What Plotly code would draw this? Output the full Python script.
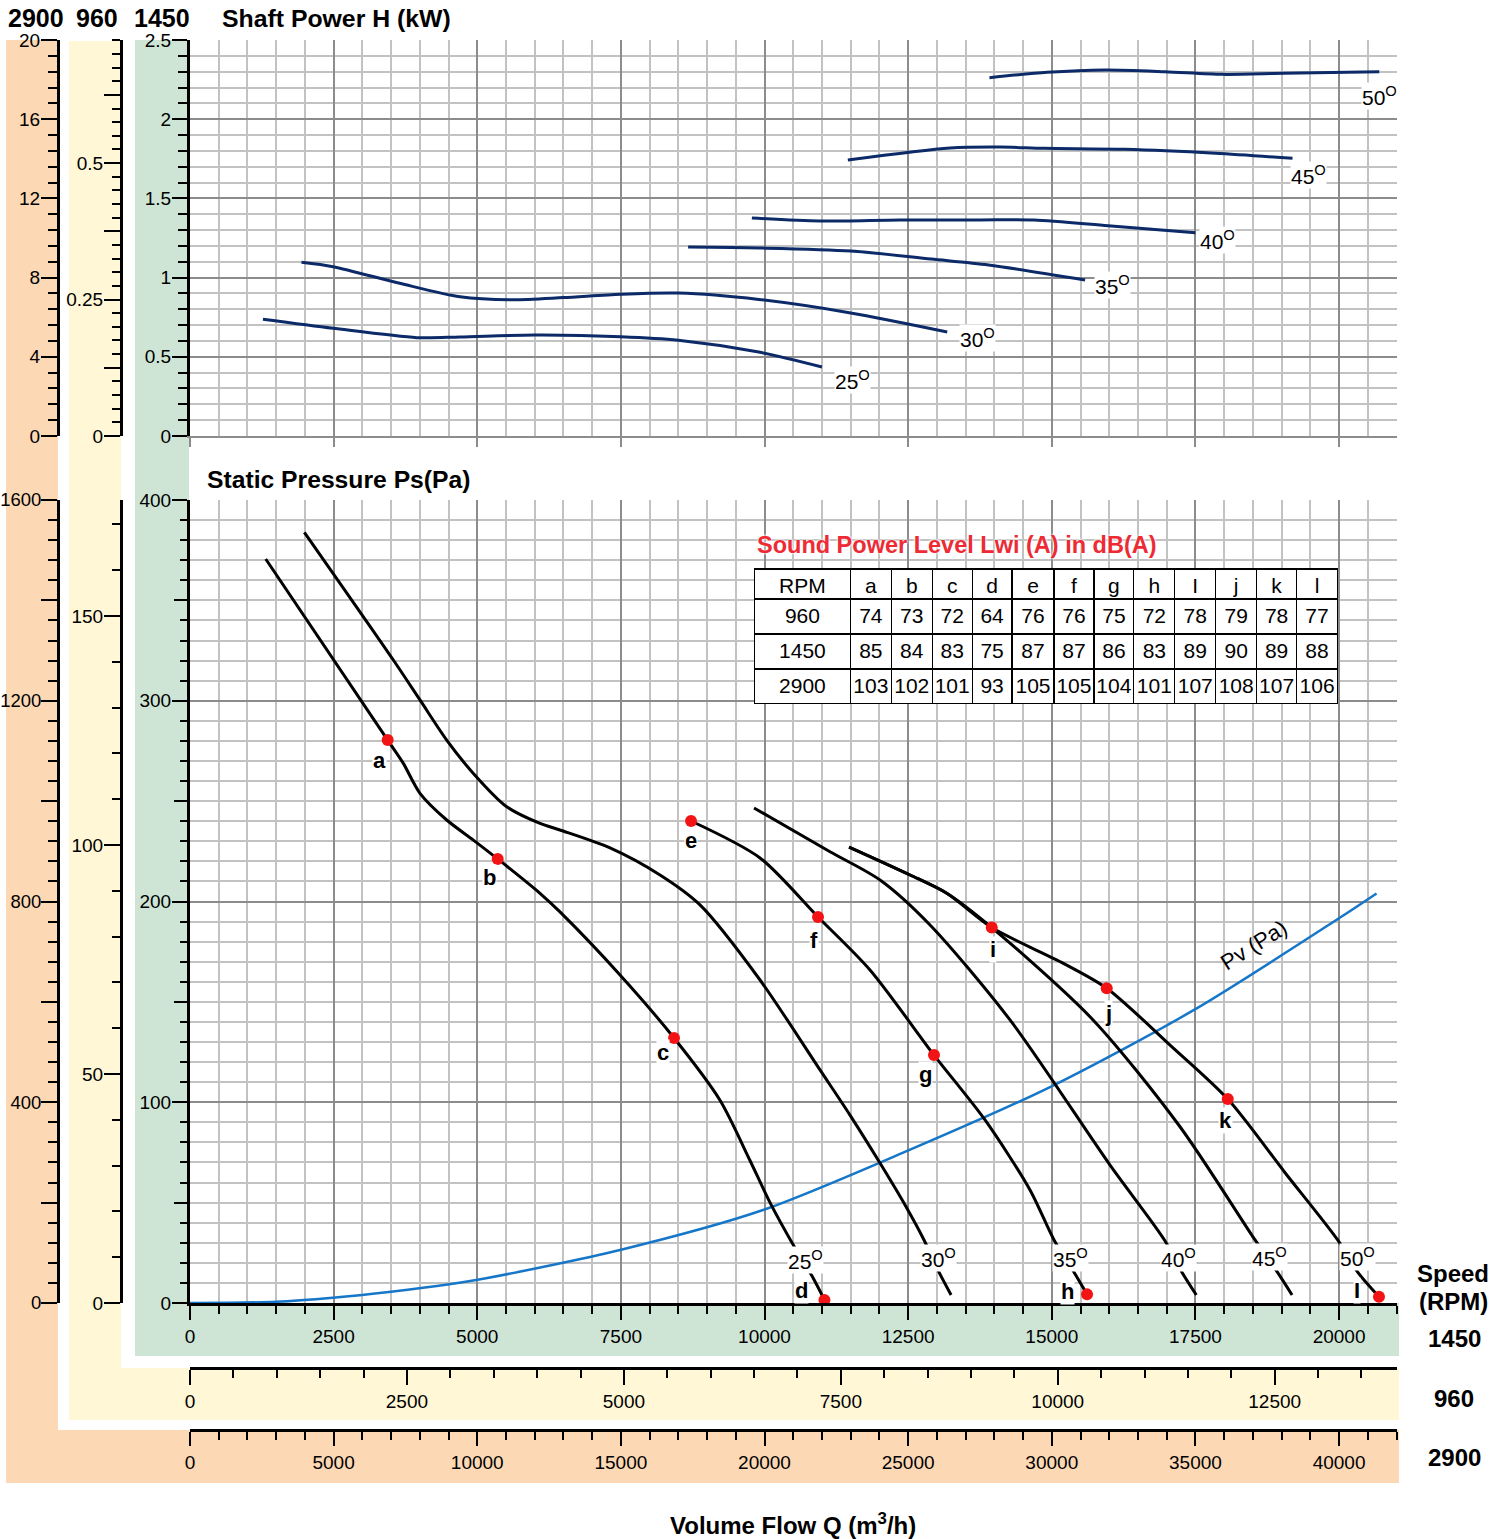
import plotly.graph_objects as go

# ---------------- data ----------------
# Shaft power curves (1450 rpm scale): flow Q (m3/h), power H (kW)
pw25_q = [1270, 2490, 3950, 4700, 6000, 7500, 8500, 9900, 11000]
pw25_h = [0.737, 0.680, 0.621, 0.625, 0.637, 0.627, 0.605, 0.530, 0.436]
pw30_q = [1940, 2490, 3650, 4700, 5600, 6500, 7500, 8500, 9900, 11500, 13180]
pw30_h = [1.097, 1.069, 0.964, 0.879, 0.860, 0.874, 0.895, 0.902, 0.862, 0.777, 0.657]
pw35_q = [8670, 9900, 11500, 12900, 13900, 15580]
pw35_h = [1.193, 1.187, 1.168, 1.117, 1.080, 0.985]
pw40_q = [9780, 10970, 12360, 13750, 14690, 15980, 17500]
pw40_h = [1.376, 1.357, 1.364, 1.364, 1.364, 1.328, 1.283]
pw45_q = [11450, 13230, 14100, 14870, 16270, 17850, 19190]
pw45_h = [1.742, 1.818, 1.824, 1.816, 1.810, 1.785, 1.753]
pw50_q = [13915, 14920, 15920, 16970, 17970, 19030, 20700]
pw50_h = [2.262, 2.296, 2.311, 2.300, 2.283, 2.290, 2.300]

# Static pressure curves (1450 rpm scale): flow Q, pressure Ps (Pa)
ps25_q = [1318, 3441, 3713, 4003, 4468, 4932, 5356, 6092, 6440, 7485, 8425, 9225, 9747, 10096, 10531, 10827, 11043]
ps25_p = [370.6, 280.4, 268.8, 253.9, 240.6, 230.6, 221.2, 204.1, 194.8, 163.4, 132.0, 101.0, 71.0, 50.0, 27.4, 13.4, 1.5]
ps30_q = [1990, 3539, 4003, 4468, 4932, 5513, 6092, 6440, 7311, 8181, 8877, 9922, 10966, 11488, 12010, 12446, 12776, 13032, 13247]
ps30_p = [383.9, 320.3, 300.4, 280.4, 263.8, 247.2, 238.9, 235.6, 226.7, 213.2, 198.3, 160.9, 116.1, 93.6, 69.7, 48.8, 31.4, 15.6, 4.0]
ps35_q = [8721, 9922, 10931, 11836, 12950, 13838, 14621, 15039, 15382, 15614]
ps35_p = [240.1, 221.7, 192.3, 165.9, 123.5, 91.2, 56.3, 31.4, 15.6, 4.3]
ps40_q = [9817, 11140, 12011, 12881, 14273, 16014, 16961, 17260, 17516]
ps40_p = [246.6, 224.8, 210.7, 188.3, 141.0, 68.7, 31.4, 15.6, 4.0]
ps45_q = [11471, 12533, 13172, 13955, 15718, 17232, 18538, 18921, 19182]
ps45_p = [227.1, 213.2, 204.1, 187.0, 141.0, 87.8, 31.4, 15.6, 4.0]
ps50_q = [11471, 12533, 13172, 13955, 15202, 15956, 17058, 18063, 19060, 19976, 20331, 20695]
ps50_p = [227.1, 213.2, 204.1, 187.0, 169.2, 156.8, 128.5, 101.6, 64.9, 31.4, 15.1, 3.1]

# Dynamic pressure Pv
pv_q = [0, 1497, 2484, 3499, 4514, 5152, 7485, 9974, 12463, 14987, 17476, 19991, 20653]
pv_p = [0, 0.6, 2.6, 5.6, 9.3, 12.3, 26.4, 46.3, 75.5, 107.8, 146.0, 191.5, 204.0]

# Sound measurement points
pt_names = ['a', 'b', 'c', 'd', 'e', 'f', 'g', 'h', 'i', 'j', 'k', 'l']
pt_q = [3441, 5356, 8425, 11043, 8721, 10931, 12950, 15614, 13955, 15956, 18063, 20695]
pt_p = [280.4, 221.2, 132.0, 1.5, 240.1, 192.3, 123.5, 4.3, 187.0, 156.8, 101.6, 3.1]

# Sound power level table
tbl_header = ['RPM', 'a', 'b', 'c', 'd', 'e', 'f', 'g', 'h', 'I', 'j', 'k', 'l']
tbl_rpm = ['960', '1450', '2900']
lw_960 = [74, 73, 72, 64, 76, 76, 75, 72, 78, 79, 78, 77]
lw_1450 = [85, 84, 83, 75, 87, 87, 86, 83, 89, 90, 89, 88]
lw_2900 = [103, 102, 101, 93, 105, 105, 104, 101, 107, 108, 107, 106]

angles = ['25', '30', '35', '40', '45', '50']

# ---------------- layout helpers ----------------
W, H = 1507, 1539
def px(x):
    return x / W
def py(y):
    return 1 - y / H

XDOM = [px(190), px(1396.5)]
NAVY = '#0c2a68'
RED = '#f21414'
GRID_L = '#c2c2c2'
GRID_D = '#8c8c8c'
SANS = 'Liberation Sans, Arial, sans-serif'
TF = dict(family=SANS, size=19, color='black')

fig = go.Figure()

# power curves
for q, h in [(pw25_q, pw25_h), (pw30_q, pw30_h), (pw35_q, pw35_h),
             (pw40_q, pw40_h), (pw45_q, pw45_h), (pw50_q, pw50_h)]:
    fig.add_trace(go.Scatter(x=q, y=h, xaxis='x2', yaxis='y2', mode='lines',
                             line=dict(color=NAVY, width=3, shape='spline', smoothing=0.8),
                             hoverinfo='skip', showlegend=False))

# Pv
fig.add_trace(go.Scatter(x=pv_q, y=pv_p, xaxis='x', yaxis='y', mode='lines',
                         line=dict(color='#1677c8', width=2.5, shape='spline', smoothing=0.8),
                         hoverinfo='skip', showlegend=False))

# pressure curves
for q, p in [(ps25_q, ps25_p), (ps30_q, ps30_p), (ps35_q, ps35_p),
             (ps40_q, ps40_p), (ps45_q, ps45_p), (ps50_q, ps50_p)]:
    fig.add_trace(go.Scatter(x=q, y=p, xaxis='x', yaxis='y', mode='lines',
                             line=dict(color='black', width=3, shape='spline', smoothing=0.8),
                             hoverinfo='skip', showlegend=False))

# points
fig.add_trace(go.Scatter(x=pt_q, y=pt_p, xaxis='x', yaxis='y', mode='markers',
                         marker=dict(color=RED, size=12),
                         hoverinfo='skip', showlegend=False, cliponaxis=False))

# dummy traces so overlay axes are drawn
for xa, ya in [('x', 'y3'), ('x', 'y4'), ('x', 'y7'), ('x2', 'y5'), ('x2', 'y6'),
               ('x3', 'y'), ('x4', 'y')]:
    fig.add_trace(go.Scatter(x=[0], y=[0], xaxis=xa, yaxis=ya, mode='markers',
                             marker=dict(opacity=0, size=1), hoverinfo='skip', showlegend=False))

# table
cols = [tbl_rpm] + [[str(lw_960[i]), str(lw_1450[i]), str(lw_2900[i])] for i in range(12)]
fig.add_trace(go.Table(
    domain=dict(x=[px(754.5), px(1338)], y=[py(704.5), py(569)]),
    columnwidth=[96, 41, 41, 40, 40, 42, 40, 40, 41, 41, 41, 40, 41],
    header=dict(values=tbl_header, height=30, fill_color='white',
                line=dict(color='black', width=1.2),
                font=dict(family=SANS, size=21, color='black'), align='center'),
    cells=dict(values=cols, height=35, fill_color='white',
               line=dict(color='black', width=1.2),
               font=dict(family=SANS, size=21, color='black'), align='center')))

# ---------------- axes ----------------
base = dict(ticks='outside', tickcolor='black', tickwidth=2, zeroline=False,
            tickfont=TF, exponentformat='none', fixedrange=True)

layout_axes = dict(
    xaxis=dict(base, domain=XDOM, range=[0, 21000], anchor='y', tick0=0, dtick=2500, ticklen=14,
               tickformat='d', showline=True, linecolor='black', linewidth=3,
               showgrid=True, gridcolor=GRID_D, gridwidth=2,
               minor=dict(tick0=0, dtick=500, ticks='outside', ticklen=8, tickcolor='black', tickwidth=2,
                          showgrid=True, gridcolor=GRID_L, gridwidth=2)),
    yaxis=dict(base, domain=[py(1303), py(500)], range=[0, 400], anchor='x', tick0=0, dtick=100,
               ticklen=15, showline=True, linecolor='black', linewidth=3, ticklabelstandoff=-3,
               showgrid=True, gridcolor=GRID_D, gridwidth=2,
               minor=dict(tick0=0, dtick=10, ticks='outside', ticklen=7, tickcolor='black', tickwidth=2,
                          showgrid=True, gridcolor=GRID_L, gridwidth=2)),
    yaxis7=dict(base, overlaying='y', anchor='x', side='left', range=[0, 400], tickmode='array',
                tickvals=[50, 150, 250, 350], ticklen=15, showticklabels=False, showline=False,
                showgrid=False),
    xaxis2=dict(base, domain=XDOM, range=[0, 21000], anchor='y2', tick0=0, dtick=2500, ticklen=9,
                tickcolor=GRID_D, showticklabels=False, showline=True, linecolor=GRID_D, linewidth=2,
                showgrid=True, gridcolor=GRID_D, gridwidth=2,
                minor=dict(tick0=0, dtick=500, ticks='', showgrid=True, gridcolor=GRID_L, gridwidth=2)),
    yaxis2=dict(base, domain=[py(436), py(40)], range=[0, 2.5], anchor='x2', tick0=0, dtick=0.5,
                ticklen=15, showline=True, linecolor='black', linewidth=3, ticklabelstandoff=-3,
                showgrid=True, gridcolor=GRID_D, gridwidth=2,
                minor=dict(tick0=0, dtick=0.1, ticks='outside', ticklen=9, tickcolor='black', tickwidth=2,
                           showgrid=True, gridcolor=GRID_L, gridwidth=2)),
    yaxis3=dict(base, overlaying='y', anchor='free', position=px(58), side='left', range=[0, 1600],
                tickmode='array', tickvals=list(range(0, 1601, 200)),
                ticktext=['0', '', '400', '', '800', '', '1200', '', '1600'],
                ticklen=16, showline=True, linecolor='black', linewidth=2.5, showgrid=False,
                ticklabelstandoff=-4, tickfont=dict(family=SANS, size=18.5, color='black'),
                minor=dict(tickmode='linear', tick0=0, dtick=40, ticks='outside', ticklen=9,
                           tickcolor='black', tickwidth=2)),
    yaxis4=dict(base, overlaying='y', anchor='free', position=px(121), side='left',
                range=[0, 400 * (960 / 1450) ** 2], tick0=0, dtick=50, ticklen=16,
                showline=True, linecolor='black', linewidth=2.5, showgrid=False, ticklabelstandoff=-3,
                minor=dict(tick0=0, dtick=10, ticks='outside', ticklen=8, tickcolor='black', tickwidth=2)),
    yaxis5=dict(base, overlaying='y2', anchor='free', position=px(58), side='left', range=[0, 20],
                tick0=0, dtick=4, ticklen=16, showline=True, linecolor='black', linewidth=2.5,
                showgrid=False, ticklabelstandoff=-3,
                minor=dict(tick0=0, dtick=0.8, ticks='outside', ticklen=9, tickcolor='black', tickwidth=2)),
    yaxis6=dict(base, overlaying='y2', anchor='free', position=px(121), side='left',
                range=[0, 2.5 * (960 / 1450) ** 3], tickmode='array',
                tickvals=[0, 0.125, 0.25, 0.375, 0.5, 0.625], ticktext=['0', '', '0.25', '', '0.5', ''],
                ticklen=16, showline=True, linecolor='black', linewidth=2.5, showgrid=False,
                ticklabelstandoff=-3,
                minor=dict(tickmode='linear', tick0=0, dtick=0.025, ticks='outside', ticklen=8,
                           tickcolor='black', tickwidth=2)),
    xaxis3=dict(base, overlaying='x', anchor='free', position=py(1368), side='bottom',
                range=[0, 21000 * 960 / 1450], tick0=0, dtick=2500, ticklen=15, tickformat='d',
                showline=True, linecolor='black', linewidth=3, showgrid=False,
                minor=dict(tick0=0, dtick=500, ticks='outside', ticklen=8, tickcolor='black', tickwidth=2)),
    xaxis4=dict(base, overlaying='x', anchor='free', position=py(1430), side='bottom',
                range=[0, 42000], tick0=0, dtick=5000, ticklen=14, tickformat='d',
                showline=True, linecolor='black', linewidth=3, showgrid=False,
                minor=dict(tick0=0, dtick=1000, ticks='outside', ticklen=8, tickcolor='black', tickwidth=2)),
)

# ---------------- background bands ----------------
def rect(x0, y0, x1, y1, color):
    return dict(type='rect', xref='paper', yref='paper', x0=px(x0), x1=px(x1), y0=py(y1), y1=py(y0),
                fillcolor=color, line=dict(width=0), layer='below')

shapes = [
    rect(6, 40, 1399, 1483, '#fdd8b5'),
    rect(58, 40, 1399, 1430, 'white'),
    rect(69, 41, 1399, 1420, '#fff7d6'),
    rect(121, 41, 1399, 1368, 'white'),
    rect(135, 40, 1399, 1356, '#cee5d5'),
    rect(189, 30, 1399, 1303, 'white'),
]

# ---------------- annotations ----------------
ann = []
def txt(x, y, s, size=24, bold=True, xanchor='center', color='black', family=SANS, **kw):
    ann.append(dict(x=px(x), y=py(y), xref='paper', yref='paper', text=('<b>%s</b>' % s) if bold else s,
                    showarrow=False, xanchor=xanchor, yanchor='middle',
                    font=dict(family=family, size=size, color=color), **kw))

txt(36, 18, '2900', size=25)
txt(97, 18, '960', size=25)
txt(162, 18, '1450', size=25)
txt(220, 18, 'Shaft Power H (kW)', size=24.8, xanchor='left')
txt(205, 479, 'Static Pressure Ps(Pa)', size=24.7, xanchor='left')
txt(1453, 1273, 'Speed')
txt(1453, 1301, '(RPM)')
txt(1454, 1338, '1450')
txt(1454, 1398, '960')
txt(1454, 1457, '2900')
txt(793, 1524, 'Volume Flow Q (m<sup>3</sup>/h)')
ann.append(dict(x=px(755), y=py(545), xref='paper', yref='paper',
                text='<b>Sound Power Level Lwi (A) in dB(A)</b>', showarrow=False,
                xanchor='left', yanchor='middle',
                font=dict(family=SANS, size=23.5, color='#ee2a35',
                          shadow='0px 0px 3px white, 0px 0px 3px white')))

# angle labels - top (power)
top_lab_q = [11523, 13699, 16049, 17876, 19460, 20696]
top_lab_h = [0.354, 0.619, 0.953, 1.237, 1.645, 2.146]
for a, q, h in zip(angles, top_lab_q, top_lab_h):
    ann.append(dict(x=q, y=h, xref='x2', yref='y2', text='%s<sup>O</sup>' % a, showarrow=False,
                    xanchor='center', yanchor='middle', bgcolor='white', borderpad=0,
                    font=dict(family=SANS, size=21, color='black')))
# angle labels - bottom (pressure)
bot_lab_q = [10705, 13020, 15318, 17197, 18781, 20313]
bot_lab_p = [21.4, 22.4, 22.4, 22.4, 22.9, 22.9]
for a, q, p in zip(angles, bot_lab_q, bot_lab_p):
    ann.append(dict(x=q, y=p, xref='x', yref='y', text='%s<sup>O</sup>' % a, showarrow=False,
                    xanchor='center', yanchor='middle', bgcolor='white', borderpad=0,
                    font=dict(family=SANS, size=21, color='black')))

# point letters
pt_dx = [-8, -8, -11, -23, 0, -4, -9, -20, 1, 2, -2, -22]
pt_dy = [20, 19, 14, -9, 19, 24, 19, -3, 22, 25, 21, -6]
for n, q, p, dx, dy in zip(pt_names, pt_q, pt_p, pt_dx, pt_dy):
    ann.append(dict(x=q, y=p, xref='x', yref='y', text='<b>%s</b>' % (n if n != 'l' else 'I'),
                    showarrow=False, xshift=dx, yshift=-dy, bgcolor='white', borderpad=0,
                    font=dict(family=SANS, size=22, color='black')))

# Pv label
ann.append(dict(x=18503, y=178.3, xref='x', yref='y', text='Pv (Pa)', showarrow=False,
                textangle=-32, font=dict(family=SANS, size=22, color='black')))

fig.update_layout(
    width=W, height=H, margin=dict(l=0, r=0, t=0, b=0, autoexpand=False),
    paper_bgcolor='white', plot_bgcolor='rgba(0,0,0,0)',
    showlegend=False, shapes=shapes, annotations=ann, **layout_axes)

fig.write_html('out.html', config={'displayModeBar': False, 'staticPlot': True},
               post_script="document.body.style.margin='0';")
